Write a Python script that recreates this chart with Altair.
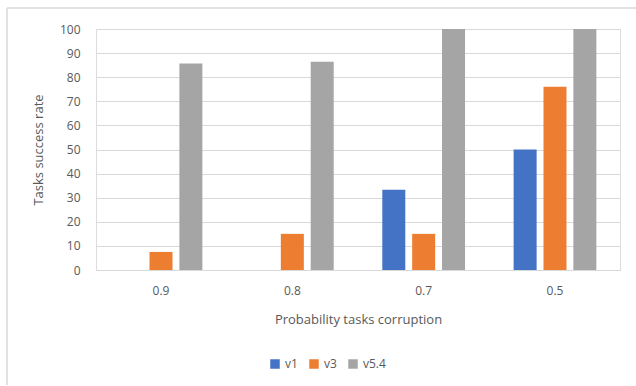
import altair as alt
import pandas as pd

categories = ["0.9", "0.8", "0.7", "0.5"]
series = ["v1", "v3", "v5.4"]
v1 = [0, 0, 33.3, 50]
v3 = [7.5, 15, 15, 76]
v54 = [85.7, 86.4, 100, 100]
colors = ["#4472C4", "#ED7D31", "#A5A5A5"]

rows = []
for name, vals in zip(series, [v1, v3, v54]):
    for cat, v in zip(categories, vals):
        rows.append({"prob": cat, "version": name, "rate": v})
df = pd.DataFrame(rows)

FONT = "Open Sans"
TXT = "#595959"

bars = alt.Chart(df).mark_bar().encode(
    x=alt.X("prob:N", sort=categories,
            scale=alt.Scale(paddingInner=0.37, paddingOuter=0.18),
            axis=alt.Axis(title="Probability tasks corruption", labelAngle=0,
                          domainColor="#D9D9D9", ticks=False, labelPadding=15,
                          titlePadding=17, labelFontSize=12, titleFontSize=13,
                          labelColor=TXT, titleColor=TXT, titleFontWeight="normal",
                          labelFont=FONT, titleFont=FONT)),
    xOffset=alt.XOffset("version:N", sort=series,
                        scale=alt.Scale(paddingInner=0.23, paddingOuter=0)),
    y=alt.Y("rate:Q", scale=alt.Scale(domain=[0, 100], nice=False),
            axis=alt.Axis(title="Tasks success rate", values=list(range(0, 101, 10)),
                          domain=False, ticks=False, labelPadding=16,
                          gridColor="#D9D9D9", labelFontSize=12, titleFontSize=13,
                          labelColor=TXT, titleColor=TXT, titleFontWeight="normal",
                          labelFont=FONT, titleFont=FONT, titlePadding=14)),
    color=alt.Color("version:N", sort=series,
                    scale=alt.Scale(domain=series, range=colors),
                    legend=alt.Legend(title=None, orient="none", direction="horizontal",
                                      legendX=173, legendY=88 + 241, symbolType="square",
                                      symbolSize=90, symbolStrokeWidth=0,
                                      labelFontSize=12, labelColor=TXT, labelFont=FONT,
                                      columnPadding=10, labelOffset=4)),
)

frame_left = alt.Chart(pd.DataFrame({"k": [0]})).mark_rule(color="#D9D9D9", strokeWidth=1.5).encode(
    x=alt.value(-89), y=alt.value(-21), y2=alt.value(356))
frame_top = alt.Chart(pd.DataFrame({"k": [0]})).mark_rule(color="#D9D9D9", strokeWidth=1.5).encode(
    x=alt.value(-89), x2=alt.value(545), y=alt.value(-21))

chart = alt.layer(frame_left, frame_top, bars).properties(
    width=524, height=241,
    autosize=alt.AutoSizeParams(type="none"),
    padding={"left": 96, "top": 29, "right": 16, "bottom": 116},
).configure_view(stroke=None).configure(background="white")

chart.save("out.html", embed_options={"renderer": "svg", "actions": False})
